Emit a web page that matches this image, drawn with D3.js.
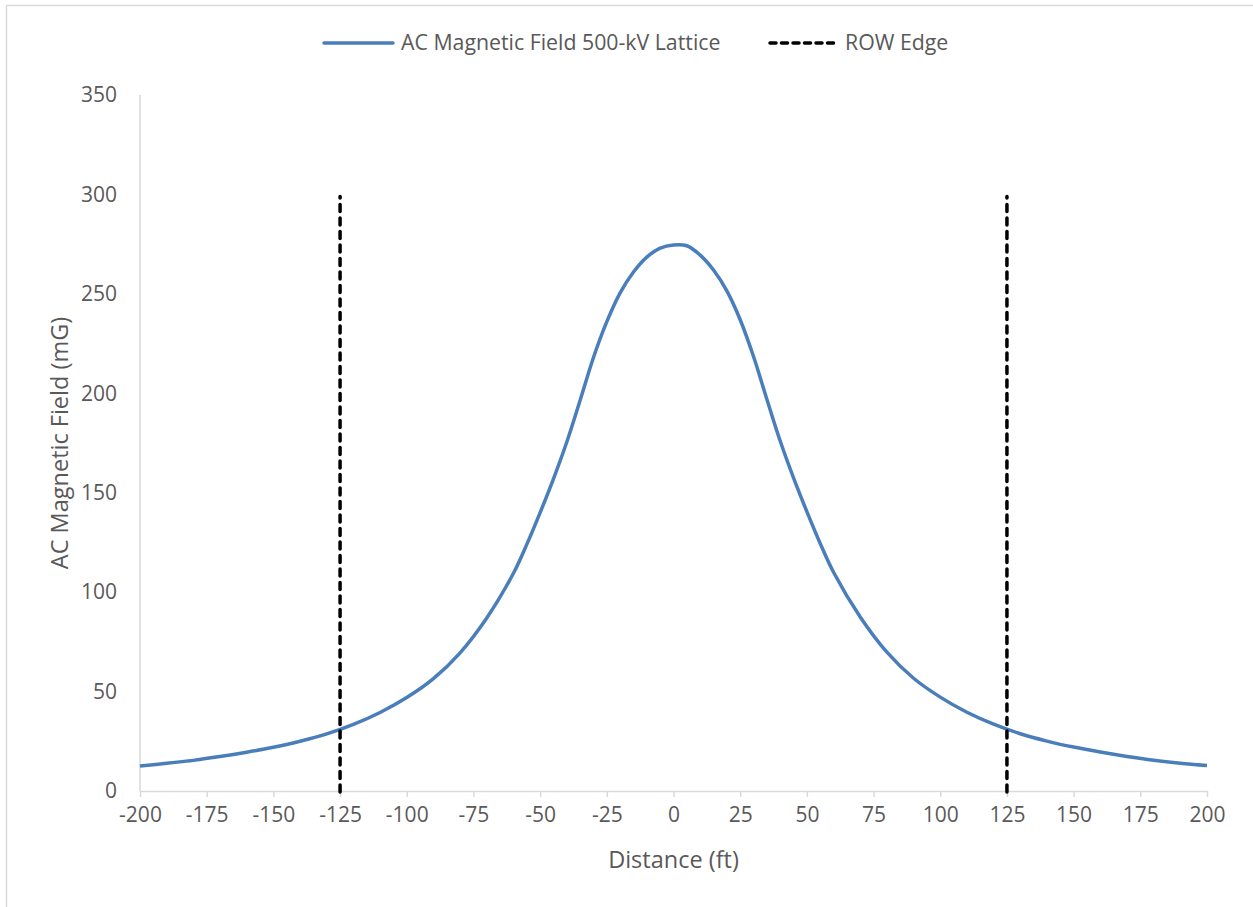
<!DOCTYPE html>
<html>
<head>
<meta charset="utf-8">
<script src="https://cdn.jsdelivr.net/npm/d3@7"></script>
<style>
html,body{margin:0;padding:0;background:#fff;}
svg{display:block;font-family:"Open Sans",sans-serif;}
</style>
</head>
<body>
<svg id="chart" width="1253" height="907"></svg>
<script>
// ---- data ----
const distance = [-200,-190,-180,-170,-160,-150,-140,-130,-120,-110,-100,-90,-80,-70,-60,-55,-50,-45,-40,-35,-30,-25,-20,-15,-10,-5,0,5,10,15,20,25,30,35,40,45,50,55,60,70,80,90,100,110,120,130,140,150,160,170,180,190,200];
const fieldMG = [12.6,13.9,15.4,17.3,19.5,22.0,25.0,28.7,33.5,39.5,47.0,56.5,69.5,87,109.5,124,140,157,175.5,196.5,218,236,250.5,261,268.5,273,274.6,274.2,269.5,262,251.5,237,218.5,197,176,157.5,140.5,124.5,110,87.5,69.8,56.7,47.2,39.6,33.6,28.8,25.1,22.1,19.6,17.4,15.5,14.0,12.8];
const rowEdgeX = [-125, 125];
const rowEdgeY = [0, 300];
const xTicks = [-200,-175,-150,-125,-100,-75,-50,-25,0,25,50,75,100,125,150,175,200];
const yTicks = [0,50,100,150,200,250,300,350];
const seriesNames = ["AC Magnetic Field 500-kV Lattice", "ROW Edge"];
const xTitle = "Distance (ft)";
const yTitle = "AC Magnetic Field (mG)";

// ---- drawing ----
const svg = d3.select("#chart");
const blue = "#4a7ebb";
const axisColor = "#d9d9d9";
const textColor = "#595959";

svg.append("rect").attr("x",6.5).attr("y",5.5).attr("width",1260).attr("height",920)
  .attr("fill","#fff").attr("stroke","#d9d9d9").attr("stroke-width",1.5);

const x = d3.scaleLinear().domain([-200,200]).range([140,1207]);
const y = d3.scaleLinear().domain([0,350]).range([791,95]);

// y axis
svg.append("line").attr("x1",x(-200)).attr("x2",x(-200)).attr("y1",y(0)).attr("y2",y(350))
  .attr("stroke",axisColor).attr("stroke-width",1.5);
svg.append("g").selectAll("text").data(yTicks).join("text")
  .attr("x",117).attr("y",d=>y(d)).attr("dy","0.35em").attr("text-anchor","end")
  .attr("fill",textColor).attr("font-size",21).text(d=>d);

// x axis
const xAxis = d3.axisBottom(x).tickValues(xTicks).tickSize(6).tickSizeOuter(0).tickPadding(10).tickFormat(d=>d);
const gx = svg.append("g").attr("transform",`translate(0,${y(0)})`).call(xAxis);
gx.select(".domain").attr("stroke",axisColor).attr("stroke-width",1.5);
gx.selectAll(".tick line").attr("stroke",axisColor).attr("stroke-width",1.5);
gx.selectAll(".tick text").attr("fill",textColor).attr("font-size",21).attr("font-family","Open Sans, sans-serif");

// axis titles
svg.append("text").attr("x",(x(-200)+x(200))/2).attr("y",860).attr("dy","0.35em")
  .attr("text-anchor","middle").attr("fill",textColor).attr("font-size",23.5).text(xTitle);
svg.append("text").attr("transform",`translate(60,${(y(0)+y(350))/2}) rotate(-90)`).attr("dy","0.35em")
  .attr("text-anchor","middle").attr("fill",textColor).attr("font-size",23.5).text(yTitle);

// series line
const pts = distance.map((d,i)=>[d, fieldMG[i]]);
svg.append("path").datum(pts)
  .attr("d", d3.line().x(d=>x(d[0])).y(d=>y(d[1])).curve(d3.curveCatmullRom.alpha(0.5)))
  .attr("fill","none").attr("stroke",blue).attr("stroke-width",3.5).attr("stroke-linejoin","round");

// ROW edges
rowEdgeX.forEach(v=>{
  svg.append("line").attr("x1",x(v)).attr("x2",x(v)).attr("y1",y(rowEdgeY[0])+1).attr("y2",y(rowEdgeY[1])+2)
    .attr("stroke","#000").attr("stroke-width",3.5).attr("stroke-linecap","round").attr("stroke-dasharray","7,6.5");
});

// legend
const lg = svg.append("g");
lg.append("line").attr("x1",324).attr("x2",393).attr("y1",43).attr("y2",43)
  .attr("stroke",blue).attr("stroke-width",3.5).attr("stroke-linecap","round");
lg.append("text").attr("x",401).attr("y",43).attr("dy","0.35em").attr("fill",textColor)
  .attr("font-size",21.3).text(seriesNames[0]);
lg.append("line").attr("x1",770).attr("x2",838).attr("y1",43).attr("y2",43)
  .attr("stroke","#000").attr("stroke-width",3.5).attr("stroke-linecap","round").attr("stroke-dasharray","6,5.5");
lg.append("text").attr("x",845).attr("y",43).attr("dy","0.35em").attr("fill",textColor)
  .attr("font-size",21.3).text(seriesNames[1]);
</script>
</body>
</html>
